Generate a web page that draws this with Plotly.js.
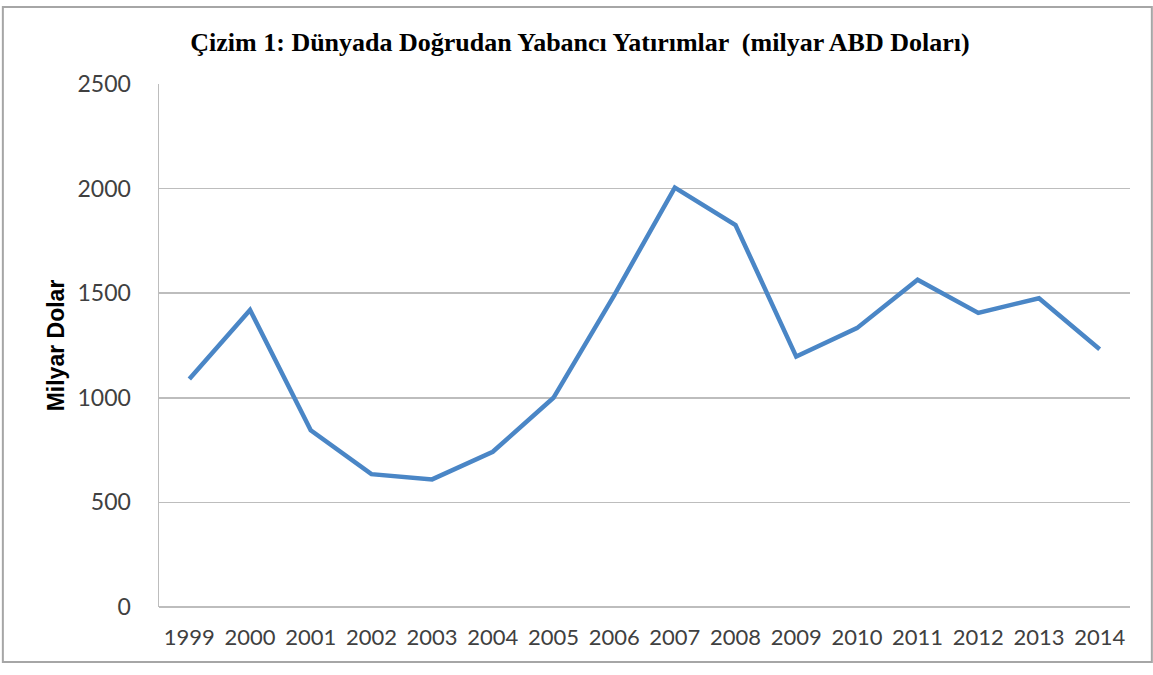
<!DOCTYPE html>
<html>
<head>
<meta charset="utf-8">
<script src="https://cdn.plot.ly/plotly-3.0.1.min.js"></script>
<style>html,body{margin:0;padding:0;background:#fff;}#chart{width:1153px;height:675px;}</style>
</head>
<body>
<div id="chart"></div>
<script>
const years = ["1999","2000","2001","2002","2003","2004","2005","2006","2007","2008","2009","2010","2011","2012","2013","2014"];
const fdi = [1090, 1420, 845, 635, 610, 742, 1000, 1490, 2005, 1826, 1197, 1333, 1564, 1406, 1476, 1232];
const yTicks = [0, 500, 1000, 1500, 2000, 2500];

const trace = {
  x: years, y: fdi, type: 'scatter', mode: 'lines',
  line: {color: '#4A86C6', width: 4.5},
  hoverinfo: 'x+y'
};

const layout = {
  width: 1153, height: 675,
  margin: {l: 159, r: 23, t: 84, b: 68},
  paper_bgcolor: '#ffffff', plot_bgcolor: '#ffffff',
  showlegend: false,
  title: {
    text: 'Çizim 1: Dünyada Doğrudan Yabancı Yatırımlar  (milyar ABD Doları)',
    font: {family: 'Liberation Serif, Times New Roman, serif', size: 26, color: '#000', weight: 'bold'},
    x: 0.503, xanchor: 'center', y: 0.938, yanchor: 'middle'
  },
  xaxis: {
    type: 'category', range: [-0.5, 15.5],
    showgrid: false, showline: false, zeroline: false,
    ticks: '', tickfont: {family: 'Lato, Open Sans, sans-serif', size: 22, color: '#404040'},
    ticklabelstandoff: 15
  },
  yaxis: {
    range: [0, 2500], tickvals: yTicks, ticktext: yTicks.map(String),
    showgrid: true, gridcolor: '#BDBDBD', gridwidth: 1.5,
    showline: true, linecolor: '#BDBDBD', linewidth: 1.5,
    zeroline: true, zerolinecolor: '#BDBDBD', zerolinewidth: 1.5,
    ticks: '', tickfont: {family: 'Lato, Open Sans, sans-serif', size: 23, color: '#404040'},
    ticklabelstandoff: 22,
    title: {text: 'Milyar Dolar', font: {family: 'Liberation Sans, Arial, sans-serif', size: 23, color: '#000', weight: 'bold'}, standoff: 6}
  },
  shapes: [{
    type: 'rect', xref: 'paper', yref: 'paper',
    x0: -0.1608, x1: 1.0225, y0: -0.105, y1: 1.147,
    line: {color: '#A6A6A6', width: 2}, fillcolor: 'rgba(0,0,0,0)', layer: 'below'
  }]
};

Plotly.newPlot('chart', [trace], layout, {displayModeBar: false, staticPlot: true});
</script>
</body>
</html>
